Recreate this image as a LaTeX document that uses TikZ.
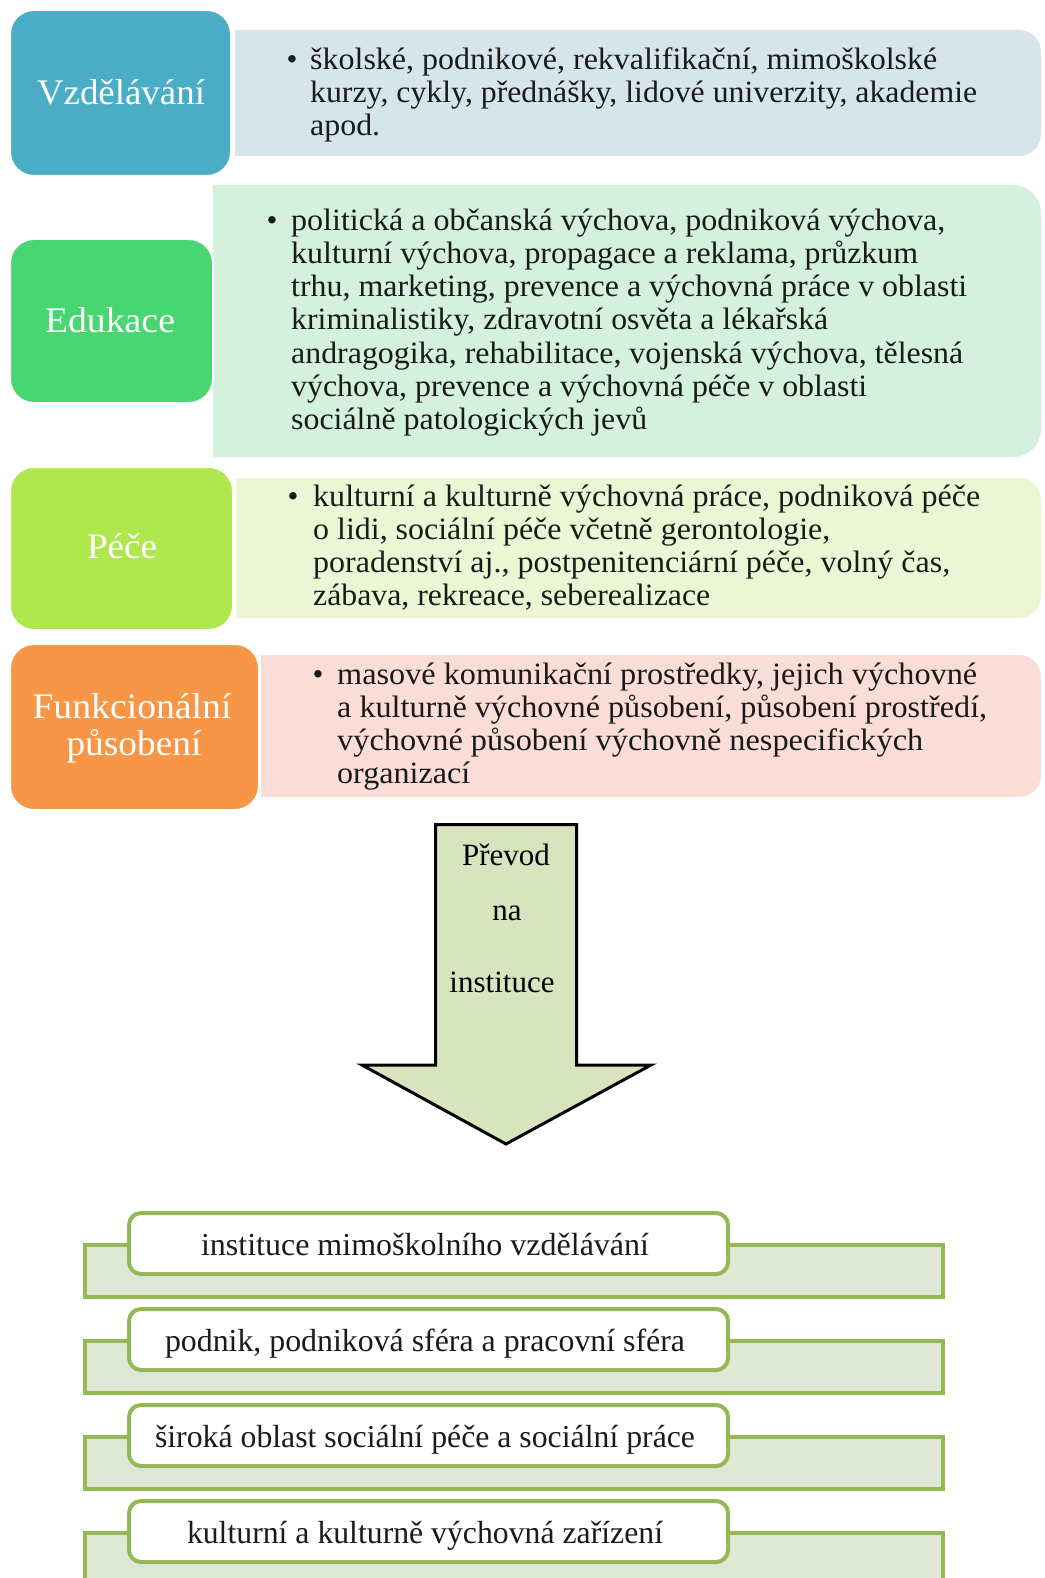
\documentclass[tikz,border=0pt]{standalone}
\usepackage{fontspec}
\setmainfont{Liberation Serif}
\usepackage{graphicx}
\newsavebox\fitbox
\newlength\fitw
\newcommand\fitto[2]{\sbox\fitbox{#2}\setlength\fitw{\wd\fitbox}\pgfmathsetmacro\fitfac{#1/\fitw}\scalebox{\fitfac}[1]{\usebox\fitbox}}
\definecolor{cVz}{HTML}{4BACC6}
\definecolor{cEd}{HTML}{48D672}
\definecolor{cPe}{HTML}{AEE84C}
\definecolor{cFu}{HTML}{F79646}
\definecolor{bVz}{HTML}{D5E5EB}
\definecolor{bEd}{HTML}{D3F1DD}
\definecolor{bPe}{HTML}{ECF6D5}
\definecolor{bFu}{HTML}{F9DDD6}
\definecolor{arrowfill}{HTML}{D7E4BD}
\definecolor{grnline}{HTML}{94B954}
\definecolor{grnfill}{HTML}{DFE8D4}
\definecolor{txt}{HTML}{1A1A1A}
\tikzset{
  body/.style={anchor=base west, inner sep=0pt, font=\fontsize{31}{33}\selectfont, text=txt},
  bul/.style={anchor=base, inner sep=0pt, font=\fontsize{31}{33}\selectfont, text=txt},
  labtxt/.style={anchor=base, inner sep=0pt, font=\fontsize{36}{37}\selectfont, text=white},
  labbox/.style={draw=white, line width=2pt, rounded corners=24pt, inner sep=0pt},
  atxt/.style={anchor=base, inner sep=0pt, font=\fontsize{31}{33}\selectfont, text=black},
  arrowshape/.style={draw=black, line width=3pt, fill=arrowfill, line join=miter},
  bgrect/.style={draw=grnline, line width=4pt, fill=grnfill},
  wbox/.style={draw=grnline, line width=4pt, fill=white, rounded corners=12pt, inner sep=0pt},
  btxt/.style={anchor=base, inner sep=0pt, font=\fontsize{32}{33}\selectfont, text=txt},
}
\begin{document}
\begin{tikzpicture}[x=1pt,y=-1pt]
\useasboundingbox[fill=white] (0,0) rectangle (1044,1578);

% content boxes
\begin{scope}\clip (235,30) rectangle (1041,156);
  \fill[bVz, rounded corners=22pt] (180,30) rectangle (1041,156);\end{scope}
\begin{scope}\clip (213,185) rectangle (1041,457);
  \fill[bEd, rounded corners=28pt] (150,185) rectangle (1041,457);\end{scope}
\begin{scope}\clip (236,478) rectangle (1041,618);
  \fill[bPe, rounded corners=22pt] (180,478) rectangle (1041,618);\end{scope}
\begin{scope}\clip (261,655) rectangle (1041,797);
  \fill[bFu, rounded corners=22pt] (200,655) rectangle (1041,797);\end{scope}

% label boxes
\node[labbox, fill=cVz, minimum width=221pt, minimum height=166pt] (vzbox) at (120.5,93) {};
\node[labbox, fill=cEd, minimum width=203pt, minimum height=164pt] (edbox) at (111.5,321) {};
\node[labbox, fill=cPe, minimum width=223pt, minimum height=163pt] (pebox) at (121.5,548.5) {};
\node[labbox, fill=cFu, minimum width=249pt, minimum height=166pt] (fubox) at (134.5,727) {};

\node[labtxt] (vz) at (121,105) {\fitto{168}{Vzdělávání}};
\node[labtxt] (ed) at (110,332) {\fitto{130}{Edukace}};
\node[labtxt] (pe) at (122,558) {\fitto{70}{Péče}};
\node[labtxt] (fu1) at (132,718) {\fitto{199}{Funkcionální}};
\node[labtxt] (fu2) at (134,755) {\fitto{135}{působení}};

% box 1 text
\node[bul] (b1) at (292,70) {•};
\node[body] (l11) at (310,70) {\fitto{627}{školské, podnikové, rekvalifikační, mimoškolské}};
\node[body] (l12) at (310,103) {\fitto{667}{kurzy, cykly, přednášky, lidové univerzity, akademie}};
\node[body] (l13) at (310,136) {\fitto{70}{apod.}};

% box 2 text
\node[bul] (b2) at (272,231) {•};
\node[body] (l21) at (291,231) {\fitto{654}{politická a občanská výchova, podniková výchova,}};
\node[body] (l22) at (291,264) {\fitto{627}{kulturní výchova, propagace a reklama, průzkum}};
\node[body] (l23) at (291,297) {\fitto{676}{trhu, marketing, prevence a výchovná práce v oblasti}};
\node[body] (l24) at (291,330) {\fitto{537}{kriminalistiky, zdravotní osvěta a lékařská}};
\node[body] (l25) at (291,363) {\fitto{672}{andragogika, rehabilitace, vojenská výchova, tělesná}};
\node[body] (l26) at (291,396) {\fitto{576}{výchova, prevence a výchovná péče v oblasti}};
\node[body] (l27) at (291,429) {\fitto{356}{sociálně patologických jevů}};

% box 3 text
\node[bul] (b3) at (293,506) {•};
\node[body] (l31) at (313,506) {\fitto{667}{kulturní a kulturně výchovná práce, podniková péče}};
\node[body] (l32) at (313,539) {\fitto{517}{o lidi, sociální péče včetně gerontologie,}};
\node[body] (l33) at (313,572) {\fitto{637}{poradenství aj., postpenitenciární péče, volný čas,}};
\node[body] (l34) at (313,605) {\fitto{397}{zábava, rekreace, seberealizace}};

% box 4 text
\node[bul] (b4) at (318,684) {•};
\node[body] (l41) at (337,684) {\fitto{640}{masové komunikační prostředky, jejich výchovné}};
\node[body] (l42) at (337,717) {\fitto{650}{a kulturně výchovné působení, působení prostředí,}};
\node[body] (l43) at (337,750) {\fitto{586}{výchovné působení výchovně nespecifických}};
\node[body] (l44) at (337,783) {\fitto{133}{organizací}};

% arrow
\draw[arrowshape] (435.5,824.5) -- (576.5,824.5) -- (576.5,1065) -- (651,1065)
  -- (506,1144) -- (362,1065) -- (435.5,1065) -- cycle;
\node[atxt] (a1) at (506,865) {Převod};
\node[atxt] (a2) at (507,920) {na};
\node[atxt] (a3) at (502,992) {instituce};

% bottom groups
\foreach \t/\bw [count=\i] in {instituce mimoškolního vzdělávání/448,
  {podnik, podniková sféra a pracovní sféra}/520,
  široká oblast sociální péče a sociální práce/540,
  kulturní a kulturně výchovná zařízení/476}{
  \pgfmathsetmacro\T{1213+96*(\i-1)}
  \draw[bgrect] (85,\T+32) rectangle (943,\T+84);
  \node[wbox, minimum width=599pt, minimum height=61pt] (w\i) at (428.5,\T+30.5) {};
  \node[btxt] (t\i) at (425,\T+42) {\fitto{\bw}{\t}};
}
\end{tikzpicture}
\end{document}
